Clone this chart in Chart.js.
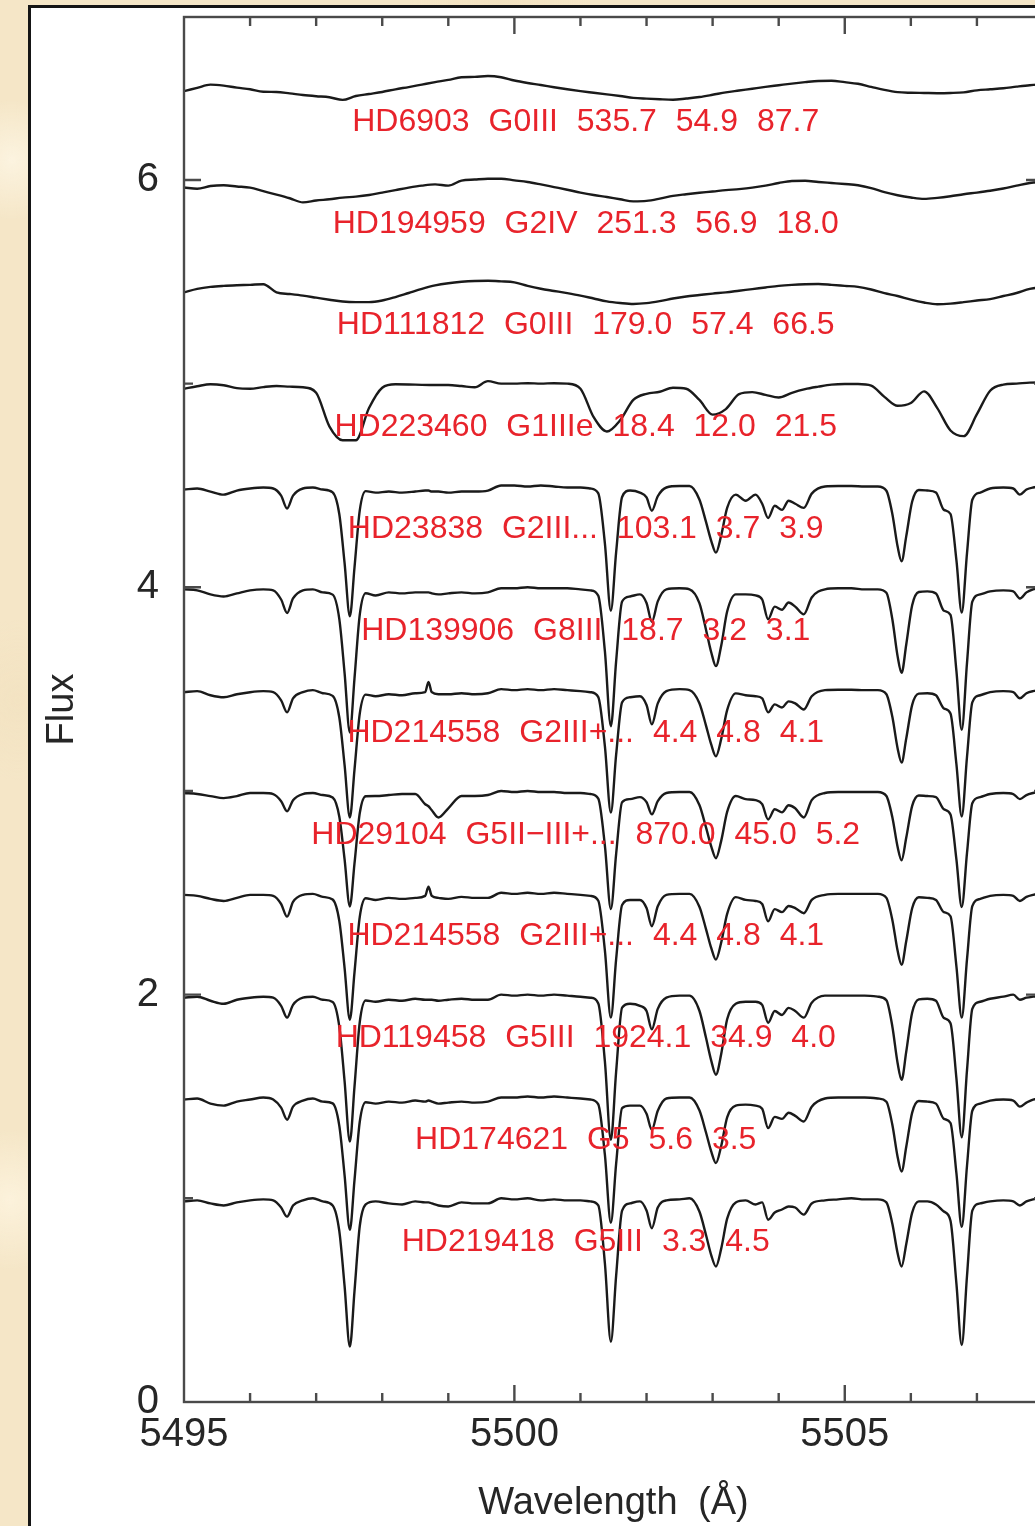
<!DOCTYPE html>
<html>
<head>
<meta charset="utf-8">
<title>Flux vs Wavelength</title>
<script src="https://cdn.jsdelivr.net/npm/chart.js@4.4.1/dist/chart.umd.min.js"></script>
<style>
  html, body { margin: 0; padding: 0; width: 1035px; height: 1526px; overflow: hidden; }
  body {
    background-color: #f5e6c7;
    background-image:
      radial-gradient(circle at 12px 160px, rgba(255, 249, 234, 0.7), rgba(255, 249, 234, 0) 60px),
      radial-gradient(circle at 18px 700px, rgba(240, 222, 186, 0.4), rgba(240, 222, 186, 0) 80px),
      radial-gradient(circle at 10px 1200px, rgba(255, 247, 228, 0.7), rgba(255, 247, 228, 0) 70px),
      radial-gradient(circle at 500px 2px, rgba(240, 222, 186, 0.5), rgba(240, 222, 186, 0) 90px);
  }
  #frame {
    position: absolute; left: 28px; top: 5px; width: 1100px; height: 1600px;
    border: 3px solid #151515; background: #ffffff;
  }
  #plot { position: absolute; left: 0; top: 0; width: 1100px; height: 1526px; }
</style>
</head>
<body>
<div id="frame"></div>
<canvas id="plot" width="1100" height="1526"></canvas>
<script>
// ---- wavelength grids (Angstrom) ----
const broadWavelengths = [
  5495.0, 5495.2, 5495.4, 5495.6, 5495.8, 5496.0, 5496.2, 5496.4, 5496.6, 5496.8,
  5497.0, 5497.2, 5497.4, 5497.6, 5497.8, 5498.0, 5498.2, 5498.4, 5498.6, 5498.8,
  5499.0, 5499.2, 5499.4, 5499.6, 5499.8, 5500.0, 5500.2, 5500.4, 5500.6, 5500.8,
  5501.0, 5501.2, 5501.4, 5501.6, 5501.8, 5502.0, 5502.2, 5502.4, 5502.6, 5502.8,
  5503.0, 5503.2, 5503.4, 5503.6, 5503.8, 5504.0, 5504.2, 5504.4, 5504.6, 5504.8,
  5505.0, 5505.2, 5505.4, 5505.6, 5505.8, 5506.0, 5506.2, 5506.4, 5506.6, 5506.8,
  5507.0, 5507.2, 5507.4, 5507.6, 5507.8, 5508.0
];

const sharpWavelengths = [
  5495.00, 5495.20, 5495.40, 5495.60, 5495.80, 5496.00, 5496.20, 5496.35, 5496.47, 5496.56,
  5496.65, 5496.80, 5496.95, 5497.10, 5497.25, 5497.35, 5497.43, 5497.51, 5497.58, 5497.66,
  5497.75, 5497.90, 5498.10, 5498.30, 5498.50, 5498.65, 5498.70, 5498.75, 5498.85, 5499.00,
  5499.20, 5499.40, 5499.60, 5499.80, 5500.00, 5500.20, 5500.40, 5500.60, 5500.80, 5501.00,
  5501.15, 5501.27, 5501.37, 5501.46, 5501.54, 5501.63, 5501.75, 5501.90, 5502.00, 5502.08,
  5502.17, 5502.30, 5502.50, 5502.65, 5502.80, 5502.90, 5502.98, 5503.05, 5503.13, 5503.22,
  5503.35, 5503.50, 5503.65, 5503.75, 5503.84, 5503.94, 5504.05, 5504.15, 5504.25, 5504.38,
  5504.50, 5504.70, 5504.90, 5505.10, 5505.30, 5505.50, 5505.63, 5505.72, 5505.80, 5505.86,
  5505.93, 5506.02, 5506.12, 5506.25, 5506.38, 5506.50, 5506.60, 5506.69, 5506.77, 5506.85,
  5506.93, 5507.05, 5507.20, 5507.40, 5507.55, 5507.65, 5507.75, 5507.85, 5508.00
];

// ---- normalised flux of each star (continuum ~ 1) ----
const fluxHD6903 = [
  0.936, 0.952, 0.968, 0.963, 0.953, 0.945, 0.933, 0.932, 0.925, 0.917,
  0.911, 0.906, 0.893, 0.912, 0.922, 0.932, 0.945, 0.956, 0.968, 0.980,
  0.991, 1.004, 1.006, 1.010, 1.004, 0.988, 0.976, 0.966, 0.955, 0.945,
  0.936, 0.928, 0.920, 0.912, 0.903, 0.899, 0.896, 0.894, 0.900, 0.907,
  0.918, 0.930, 0.939, 0.948, 0.957, 0.965, 0.973, 0.980, 0.986, 0.987,
  0.980, 0.972, 0.957, 0.942, 0.931, 0.928, 0.927, 0.926, 0.927, 0.930,
  0.940, 0.945, 0.950, 0.958, 0.965, 0.969
];
const fluxHD194959 = [
  0.963, 0.957, 0.970, 0.974, 0.968, 0.962, 0.945, 0.928, 0.910, 0.890,
  0.899, 0.905, 0.913, 0.918, 0.926, 0.938, 0.950, 0.962, 0.972, 0.978,
  0.972, 0.997, 1.002, 1.006, 1.006, 0.998, 0.990, 0.978, 0.965, 0.952,
  0.938, 0.926, 0.916, 0.905, 0.895, 0.897, 0.908, 0.922, 0.930, 0.937,
  0.943, 0.950, 0.955, 0.962, 0.972, 0.985, 0.995, 0.996, 0.990, 0.985,
  0.980, 0.974, 0.960, 0.940, 0.925, 0.914, 0.907, 0.912, 0.920, 0.930,
  0.938, 0.947, 0.958, 0.972, 0.985, 0.990
];
const fluxHD111812 = [
  0.948, 0.965, 0.975, 0.980, 0.983, 0.985, 0.988, 0.948, 0.940, 0.932,
  0.922, 0.912, 0.903, 0.900, 0.900, 0.908, 0.925, 0.945, 0.965, 0.982,
  0.993, 1.000, 1.004, 1.005, 1.002, 0.997, 0.980, 0.966, 0.955, 0.944,
  0.932, 0.918, 0.904, 0.896, 0.891, 0.895, 0.905, 0.918, 0.928, 0.935,
  0.942, 0.948, 0.956, 0.964, 0.972, 0.980, 0.985, 0.988, 0.989, 0.985,
  0.980, 0.975, 0.962, 0.944, 0.930, 0.912, 0.898, 0.890, 0.893, 0.900,
  0.908, 0.915, 0.930, 0.945, 0.965, 0.975
];
const fluxHD223460 = [
  0.975, 0.987, 0.997, 0.992, 0.978, 0.975, 0.983, 0.988, 0.985, 0.982,
  0.955, 0.790, 0.722, 0.722, 0.880, 0.980, 0.997, 0.996, 0.994, 0.993,
  0.993, 0.988, 0.982, 1.012, 1.000, 1.000, 1.002, 1.000, 1.002, 1.000,
  0.975, 0.835, 0.765, 0.820, 0.920, 0.950, 0.960, 0.980, 0.975, 0.920,
  0.848, 0.875, 0.948, 0.958, 0.945, 0.932, 0.955, 0.973, 0.985, 0.995,
  0.998, 0.998, 0.990, 0.935, 0.891, 0.905, 0.962, 0.880, 0.770, 0.742,
  0.850, 0.965, 0.995, 1.000, 1.005, 1.006
];
const fluxHD23838 = [
  0.980, 0.985, 0.970, 0.955, 0.975, 0.985, 0.990, 0.985, 0.950, 0.887,
  0.950, 0.985, 0.990, 0.980, 0.966, 0.860, 0.620, 0.358, 0.596, 0.878,
  0.972, 0.965, 0.970, 0.965, 0.970, 0.975, 0.975, 0.970, 0.970, 0.965,
  0.970, 0.970, 0.975, 1.000, 1.000, 0.995, 1.000, 0.995, 0.990, 0.990,
  0.985, 0.961, 0.715, 0.385, 0.673, 0.943, 0.975, 0.965, 0.941, 0.876,
  0.947, 0.990, 0.997, 0.997, 0.931, 0.821, 0.727, 0.670, 0.755, 0.890,
  0.955, 0.925, 0.955, 0.910, 0.840, 0.900, 0.880, 0.925, 0.910, 0.890,
  0.960, 0.995, 0.997, 0.997, 0.995, 0.995, 0.974, 0.860, 0.700, 0.628,
  0.750, 0.921, 0.978, 0.975, 0.965, 0.880, 0.860, 0.632, 0.376, 0.668,
  0.930, 0.965, 0.985, 0.990, 0.985, 0.955, 0.980, 0.990, 0.995
];
const fluxHD139906 = [
  0.990, 0.985, 0.965, 0.955, 0.970, 0.985, 0.990, 0.985, 0.940, 0.874,
  0.945, 0.985, 0.990, 0.975, 0.964, 0.845, 0.580, 0.287, 0.552, 0.866,
  0.971, 0.960, 0.975, 0.970, 0.975, 0.975, 0.975, 0.970, 0.965, 0.970,
  0.975, 0.970, 0.975, 0.995, 0.995, 1.000, 0.995, 0.995, 0.995, 0.990,
  0.985, 0.958, 0.685, 0.318, 0.638, 0.930, 0.955, 0.965, 0.923, 0.830,
  0.931, 0.990, 0.995, 0.990, 0.922, 0.792, 0.680, 0.613, 0.713, 0.881,
  0.965, 0.965, 0.960, 0.940, 0.843, 0.905, 0.890, 0.925, 0.905, 0.867,
  0.950, 0.990, 0.995, 0.995, 0.990, 0.990, 0.973, 0.843, 0.661, 0.580,
  0.718, 0.912, 0.977, 0.980, 0.970, 0.885, 0.865, 0.588, 0.300, 0.629,
  0.930, 0.965, 0.980, 0.985, 0.980, 0.945, 0.975, 0.990, 1.000
];
const fluxHD214558a = [
  0.985, 0.990, 0.970, 0.960, 0.975, 0.985, 0.990, 0.985, 0.945, 0.886,
  0.955, 0.985, 0.995, 0.980, 0.967, 0.862, 0.628, 0.370, 0.604, 0.880,
  0.973, 0.965, 0.975, 0.970, 0.980, 0.985, 1.035, 0.985, 0.975, 0.975,
  0.980, 0.975, 0.980, 1.000, 0.995, 1.000, 0.995, 1.000, 0.995, 0.990,
  0.985, 0.961, 0.719, 0.394, 0.678, 0.935, 0.960, 0.965, 0.922, 0.827,
  0.930, 0.990, 1.000, 0.995, 0.931, 0.821, 0.727, 0.670, 0.755, 0.897,
  0.979, 0.970, 0.965, 0.955, 0.886, 0.925, 0.910, 0.940, 0.930, 0.900,
  0.965, 0.995, 0.997, 0.997, 0.995, 0.995, 0.975, 0.864, 0.709, 0.640,
  0.757, 0.923, 0.978, 0.980, 0.970, 0.905, 0.880, 0.631, 0.375, 0.668,
  0.935, 0.970, 0.985, 0.990, 0.985, 0.955, 0.980, 0.990, 0.995
];
const fluxHD29104 = [
  0.990, 0.985, 0.975, 0.965, 0.975, 0.990, 0.990, 0.985, 0.950, 0.900,
  0.955, 0.985, 0.990, 0.980, 0.968, 0.875, 0.665, 0.433, 0.643, 0.891,
  0.974, 0.975, 0.980, 0.985, 0.985, 0.935, 0.925, 0.905, 0.870, 0.915,
  0.975, 0.975, 0.980, 1.000, 0.995, 1.000, 0.995, 0.995, 0.990, 0.990,
  0.985, 0.962, 0.731, 0.420, 0.691, 0.945, 0.960, 0.970, 0.945, 0.885,
  0.950, 0.990, 0.995, 0.995, 0.931, 0.821, 0.727, 0.670, 0.755, 0.897,
  0.975, 0.960, 0.955, 0.935, 0.860, 0.910, 0.895, 0.930, 0.915, 0.870,
  0.955, 0.990, 0.995, 0.995, 0.995, 0.995, 0.975, 0.871, 0.725, 0.660,
  0.770, 0.927, 0.978, 0.975, 0.970, 0.910, 0.885, 0.663, 0.430, 0.696,
  0.940, 0.970, 0.985, 0.990, 0.985, 0.960, 0.980, 0.990, 1.000
];
const fluxHD214558b = [
  0.990, 0.985, 0.970, 0.960, 0.975, 0.990, 0.990, 0.985, 0.945, 0.883,
  0.955, 0.990, 0.995, 0.980, 0.967, 0.863, 0.632, 0.377, 0.608, 0.882,
  0.973, 0.965, 0.975, 0.970, 0.975, 0.985, 1.030, 0.985, 0.975, 0.970,
  0.980, 0.975, 0.975, 1.000, 0.995, 1.000, 0.995, 1.000, 0.995, 0.990,
  0.985, 0.961, 0.716, 0.387, 0.674, 0.940, 0.965, 0.965, 0.925, 0.836,
  0.934, 0.990, 0.995, 0.995, 0.932, 0.822, 0.728, 0.672, 0.756, 0.897,
  0.979, 0.965, 0.960, 0.945, 0.860, 0.920, 0.905, 0.935, 0.925, 0.900,
  0.965, 0.990, 0.995, 0.995, 0.995, 0.995, 0.975, 0.867, 0.715, 0.647,
  0.762, 0.924, 0.978, 0.975, 0.965, 0.905, 0.885, 0.638, 0.387, 0.674,
  0.935, 0.970, 0.985, 0.990, 0.985, 0.960, 0.980, 0.990, 1.000
];
const fluxHD119458 = [
  0.985, 0.990, 0.970, 0.955, 0.975, 0.985, 0.990, 0.985, 0.945, 0.887,
  0.950, 0.985, 0.990, 0.975, 0.964, 0.844, 0.576, 0.279, 0.547, 0.865,
  0.971, 0.965, 0.975, 0.970, 0.980, 0.975, 0.975, 0.975, 0.970, 0.975,
  0.980, 0.975, 0.975, 1.000, 0.995, 1.000, 0.995, 1.000, 0.995, 0.990,
  0.985, 0.957, 0.671, 0.287, 0.622, 0.936, 0.955, 0.945, 0.920, 0.830,
  0.930, 0.985, 0.995, 0.995, 0.921, 0.788, 0.675, 0.607, 0.709, 0.879,
  0.955, 0.965, 0.965, 0.950, 0.862, 0.920, 0.900, 0.935, 0.920, 0.887,
  0.960, 0.995, 0.995, 0.995, 0.995, 0.990, 0.973, 0.844, 0.663, 0.582,
  0.719, 0.912, 0.977, 0.980, 0.970, 0.885, 0.860, 0.588, 0.300, 0.629,
  0.930, 0.965, 0.980, 0.990, 1.000, 0.975, 0.985, 0.990, 0.995
];
const fluxHD174621 = [
  0.985, 0.990, 0.965, 0.955, 0.975, 0.985, 0.995, 0.985, 0.945, 0.886,
  0.950, 0.980, 0.990, 0.975, 0.966, 0.857, 0.614, 0.345, 0.588, 0.876,
  0.972, 0.965, 0.975, 0.970, 0.980, 0.975, 0.980, 0.975, 0.965, 0.970,
  0.975, 0.970, 0.975, 0.995, 0.995, 1.000, 0.995, 1.000, 0.995, 0.990,
  0.985, 0.961, 0.713, 0.380, 0.670, 0.943, 0.955, 0.955, 0.915, 0.837,
  0.930, 0.990, 0.995, 0.995, 0.932, 0.823, 0.729, 0.673, 0.757, 0.898,
  0.955, 0.960, 0.955, 0.940, 0.845, 0.900, 0.890, 0.920, 0.905, 0.877,
  0.950, 0.990, 0.995, 0.995, 0.995, 0.990, 0.974, 0.861, 0.703, 0.632,
  0.752, 0.921, 0.978, 0.975, 0.965, 0.890, 0.870, 0.622, 0.360, 0.660,
  0.930, 0.965, 0.980, 0.985, 0.980, 0.950, 0.970, 0.985, 0.990
];
const fluxHD219418 = [
  0.985, 0.990, 0.975, 0.965, 0.980, 0.990, 0.995, 0.990, 0.955, 0.910,
  0.965, 0.990, 1.000, 0.985, 0.965, 0.840, 0.570, 0.272, 0.543, 0.864,
  0.970, 0.985, 0.975, 0.970, 0.985, 0.980, 0.980, 0.975, 0.965, 0.960,
  0.980, 0.975, 0.975, 1.000, 0.995, 1.000, 0.990, 0.995, 0.990, 0.990,
  0.985, 0.965, 0.680, 0.296, 0.620, 0.940, 0.975, 0.985, 0.940, 0.853,
  0.955, 0.990, 0.995, 1.000, 0.935, 0.820, 0.720, 0.665, 0.753, 0.900,
  0.980, 0.990, 0.970, 0.980, 0.895, 0.930, 0.945, 0.960, 0.955, 0.920,
  0.975, 0.990, 0.995, 1.000, 0.995, 0.995, 0.980, 0.875, 0.730, 0.665,
  0.775, 0.930, 0.985, 0.985, 0.970, 0.935, 0.890, 0.580, 0.280, 0.620,
  0.940, 0.975, 0.985, 0.990, 0.985, 0.965, 0.985, 0.995, 1.000
];

// ---- star captions, top to bottom, and the vertical shift of each spectrum ----
const starLabels = [
  'HD6903 G0III 535.7 54.9 87.7',
  'HD194959 G2IV 251.3 56.9 18.0',
  'HD111812 G0III 179.0 57.4 66.5',
  'HD223460 G1IIIe 18.4 12.0 21.5',
  'HD23838 G2III... 103.1 3.7 3.9',
  'HD139906 G8III 18.7 3.2 3.1',
  'HD214558 G2III+... 4.4 4.8 4.1',
  'HD29104 G5II\u2212III+... 870.0 45.0 5.2',
  'HD214558 G2III+... 4.4 4.8 4.1',
  'HD119458 G5III 1924.1 34.9 4.0',
  'HD174621 G5 5.6 3.5',
  'HD219418 G5III 3.3 4.5'
];
const offsets = [5.5, 5.0, 4.5, 4.0, 3.5, 3.0, 2.5, 2.0, 1.5, 1.0, 0.5, 0.0];

// ---- axes ----
const xTickValues = [5495, 5500, 5505];
const yTickValues = [0, 2, 4, 6];

// ---- layout / style constants ----
const X_MIN = 5495, X_MAX = 5508, Y_MIN = 0, Y_MAX = 6.8;
const LABEL_X = 5501.08;      // caption centre (wavelength)
const LABEL_RISE = 0.785;     // caption height above each spectrum's shift
const INK = '#262626';
const LINE_INK = '#1a1a1a';
const AXIS_INK = '#4a4a4a';
const LABEL_RED = '#e8232b';
const FONT = '"Liberation Sans", Arial, Helvetica, sans-serif';

const spectra = [
  { flux: fluxHD6903,    grid: broadWavelengths },
  { flux: fluxHD194959,  grid: broadWavelengths },
  { flux: fluxHD111812,  grid: broadWavelengths },
  { flux: fluxHD223460,  grid: broadWavelengths },
  { flux: fluxHD23838,   grid: sharpWavelengths },
  { flux: fluxHD139906,  grid: sharpWavelengths },
  { flux: fluxHD214558a, grid: sharpWavelengths },
  { flux: fluxHD29104,   grid: sharpWavelengths },
  { flux: fluxHD214558b, grid: sharpWavelengths },
  { flux: fluxHD119458,  grid: sharpWavelengths },
  { flux: fluxHD174621,  grid: sharpWavelengths },
  { flux: fluxHD219418,  grid: sharpWavelengths }
];

const datasets = spectra.map((s, i) => ({
  label: starLabels[i],
  data: s.grid.map((w, k) => ({ x: w, y: s.flux[k] + offsets[i] })),
  borderColor: LINE_INK,
  borderWidth: 2.4,
  pointRadius: 0,
  fill: false,
  cubicInterpolationMode: 'monotone'
}));

// Box, inward tick marks and the red captions
const frameAndCaptions = {
  id: 'frameAndCaptions',
  beforeDraw(chart) {
    chart.ctx.wordSpacing = '10px';
  },
  afterDatasetsDraw(chart) {
    const { ctx, chartArea: a, scales: { x, y } } = chart;
    ctx.save();
    ctx.strokeStyle = AXIS_INK;
    ctx.lineWidth = 2.4;
    ctx.strokeRect(a.left, a.top, a.right - a.left, a.bottom - a.top);

    ctx.beginPath();
    for (let v = X_MIN + 1; v < X_MAX; v += 1) {
      const px = x.getPixelForValue(v);
      const len = xTickValues.includes(v) ? 17 : 9;
      ctx.moveTo(px, a.bottom); ctx.lineTo(px, a.bottom - len);
      ctx.moveTo(px, a.top);    ctx.lineTo(px, a.top + len);
    }
    for (let v = Y_MIN + 1; v < Y_MAX; v += 1) {
      const py = y.getPixelForValue(v);
      const len = yTickValues.includes(v) ? 17 : 9;
      ctx.moveTo(a.left, py);  ctx.lineTo(a.left + len, py);
      ctx.moveTo(a.right, py); ctx.lineTo(a.right - len, py);
    }
    ctx.stroke();

    ctx.fillStyle = LABEL_RED;
    ctx.font = '32px ' + FONT;
    ctx.textAlign = 'center';
    ctx.textBaseline = 'middle';
    ctx.wordSpacing = '10px';
    starLabels.forEach((text, i) => {
      ctx.fillText(text, x.getPixelForValue(LABEL_X), y.getPixelForValue(offsets[i] + LABEL_RISE));
    });
    ctx.restore();
  }
};

Chart.defaults.font.family = FONT;

new Chart(document.getElementById('plot'), {
  type: 'line',
  data: { datasets },
  options: {
    responsive: false,
    maintainAspectRatio: false,
    devicePixelRatio: 1,
    animation: false,
    events: [],
    layout: { padding: { top: 17, right: 57, bottom: 0, left: 0 } },
    plugins: { legend: { display: false }, tooltip: { enabled: false } },
    scales: {
      x: {
        type: 'linear',
        min: X_MIN,
        max: X_MAX,
        afterBuildTicks: (s) => { s.ticks = xTickValues.map(v => ({ value: v })); },
        afterFit: (s) => { s.height = 124; s.paddingLeft = 0; s.paddingRight = 0; },
        grid: { display: false, drawTicks: false },
        border: { display: false },
        ticks: {
          autoSkip: false, maxRotation: 0, minRotation: 0, padding: 9,
          color: INK, font: { size: 40 },
          callback: (v) => String(v)
        },
        title: {
          display: true, text: 'Wavelength (Å)', color: INK,
          font: { size: 38 }, padding: { top: 0, bottom: 0 }
        }
      },
      y: {
        type: 'linear',
        min: Y_MIN,
        max: Y_MAX,
        afterBuildTicks: (s) => { s.ticks = yTickValues.map(v => ({ value: v })); },
        afterFit: (s) => { s.width = 184; s.paddingTop = 0; s.paddingBottom = 0; },
        grid: { display: false, drawTicks: false },
        border: { display: false },
        ticks: {
          padding: 25, color: INK, font: { size: 40 },
          callback: (v) => String(v)
        },
        title: {
          display: true, text: 'Flux', color: INK,
          font: { size: 38 }, padding: { top: 40, bottom: 0 }
        }
      }
    }
  },
  plugins: [frameAndCaptions]
});
</script>
</body>
</html>
